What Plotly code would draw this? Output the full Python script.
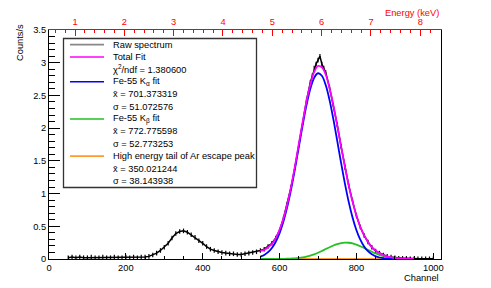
import plotly.graph_objects as go

# ---------------- data ----------------
raw_channel = [50, 60, 70, 80, 90, 100, 110, 120, 130, 140, 150, 160, 170, 180, 190,
               200, 210, 220, 230, 240, 250, 260, 270, 280, 290, 300, 310, 320, 330,
               340, 350, 360, 370, 380, 390, 400, 410, 420, 430, 440, 450, 460, 470,
               480, 490, 500, 510, 520, 530, 540, 550, 560, 570, 580, 590, 600, 610,
               620, 630, 640, 650, 660, 670, 680, 685, 690, 695, 700, 705, 710, 715,
               720, 730, 740, 750, 760, 770, 780, 790, 800, 810, 820, 830, 840, 850,
               860, 870, 880, 890, 900, 910, 920, 930, 940, 950, 960, 970, 980, 990, 1000]
raw_counts = [0.02, 0.03, 0.02, 0.03, 0.02, 0.02, 0.03, 0.02, 0.02, 0.03, 0.02, 0.02, 0.03,
              0.02, 0.02, 0.03, 0.02, 0.03, 0.02, 0.03, 0.03, 0.04, 0.06, 0.09, 0.13, 0.18,
              0.24, 0.32, 0.39, 0.42, 0.43, 0.41, 0.37, 0.33, 0.28, 0.24, 0.19, 0.15, 0.13,
              0.11, 0.10, 0.09, 0.08, 0.08, 0.07, 0.07, 0.08, 0.09, 0.10, 0.11, 0.13, 0.15,
              0.19, 0.24, 0.32, 0.44, 0.62, 0.84, 1.10, 1.40, 1.75, 2.08, 2.42, 2.70, 2.80,
              2.92, 2.98, 3.04, 3.10, 2.98, 2.92, 2.85, 2.62, 2.35, 2.05, 1.72, 1.40, 1.12,
              0.88, 0.66, 0.49, 0.36, 0.26, 0.18, 0.12, 0.09, 0.06, 0.04, 0.03, 0.02, 0.01,
              0.01, 0.01, 0.005, 0.005, 0.005, 0.003, 0.003, 0.003, 0.003]

fit_channel = [550, 560, 570, 580, 590, 600, 610, 620, 630, 640, 650, 660, 670, 680, 690,
               700, 710, 720, 730, 740, 750, 760, 770, 780, 790, 800, 810, 820, 830, 840,
               850, 860, 870, 880, 890, 900, 910, 920, 930, 940, 950]
total_fit = [0.125, 0.14, 0.18, 0.23, 0.32, 0.45, 0.62, 0.84, 1.11, 1.42, 1.76, 2.09, 2.41,
             2.67, 2.86, 2.95, 2.93, 2.82, 2.61, 2.35, 2.04, 1.72, 1.41, 1.12, 0.87, 0.66,
             0.49, 0.36, 0.26, 0.18, 0.13, 0.09, 0.06, 0.04, 0.025, 0.015, 0.009, 0.005,
             0.003, 0.002, 0.001]
ka_fit = [0.035, 0.061, 0.104, 0.168, 0.263, 0.396, 0.573, 0.797, 1.069, 1.379, 1.711, 2.045,
          2.351, 2.601, 2.770, 2.839, 2.800, 2.658, 2.428, 2.135, 1.806, 1.470, 1.152, 0.869,
          0.631, 0.440, 0.296, 0.192, 0.119, 0.071, 0.041, 0.023, 0.012, 0.006, 0.003, 0.001,
          0.0, 0.0, 0.0, 0.0, 0.0]
kb_fit = [0.0, 0.0, 0.0, 0.0, 0.0, 0.001, 0.002, 0.004, 0.007, 0.011, 0.017, 0.025, 0.037,
          0.053, 0.072, 0.096, 0.123, 0.152, 0.180, 0.206, 0.228, 0.243, 0.250, 0.248, 0.239,
          0.219, 0.195, 0.168, 0.139, 0.111, 0.086, 0.064, 0.046, 0.032, 0.022, 0.014, 0.009,
          0.005, 0.003, 0.002, 0.001]
ar_tail_fit = [0.0] * len(fit_channel)

legend_rows = [
    ("Raw spectrum", "#888888"),
    ("Total Fit", "#ff00ff"),
    ("χ<sup>2</sup>/ndf = 1.380600", None),
    ("Fe-55 K<sub>α</sub> fit", "#0000ff"),
    ("x̄ = 701.373319", None),
    ("σ = 51.072576", None),
    ("Fe-55 K<sub>β</sub> fit", "#22c022"),
    ("x̄ = 772.775598", None),
    ("σ = 52.773253", None),
    ("High energy tail of Ar escape peak", "#ff9a2e"),
    ("x̄ = 350.021244", None),
    ("σ = 38.143938", None),
]

x_range = [0, 1020]
y_range = [0, 3.5]
energy_range = [0.473, 8.42]

# ---------------- figure ----------------
W, H = 491, 288
ML, MR, MT, MB = 49, 50, 30, 29
PW, PH = W - ML - MR, H - MT - MB

def px(x):
    return (x - ML) / PW

def py(y):
    return (H - MB - y) / PH

FONT = "Liberation Sans, Arial, sans-serif"
FS = 9.3

fig = go.Figure()
fig.add_trace(go.Scatter(x=raw_channel, y=raw_counts, mode="lines",
                         line=dict(color="black", width=1.5),
                         error_y=dict(type="constant", value=0.035, color="black",
                                      thickness=1.2, width=0),
                         hoverinfo="skip", showlegend=False))
fig.add_trace(go.Scatter(x=fit_channel, y=ar_tail_fit, mode="lines",
                         line=dict(color="#ff9a2e", width=2), showlegend=False))
fig.add_trace(go.Scatter(x=fit_channel, y=kb_fit, mode="lines", line_shape="spline",
                         line=dict(color="#22c022", width=1.8), showlegend=False))
fig.add_trace(go.Scatter(x=fit_channel, y=ka_fit, mode="lines", line_shape="spline",
                         line=dict(color="#0000ff", width=1.8), showlegend=False))
fig.add_trace(go.Scatter(x=fit_channel, y=total_fit, mode="lines", line_shape="spline",
                         line=dict(color="#ff00ff", width=1.8), showlegend=False))
fig.add_trace(go.Scatter(x=[energy_range[0]], y=[None], xaxis="x2", mode="lines",
                         showlegend=False, hoverinfo="skip"))

fig.update_layout(
    width=W, height=H,
    margin=dict(l=ML, r=MR, t=MT, b=MB, pad=0),
    paper_bgcolor="white", plot_bgcolor="white",
    font=dict(family=FONT, size=FS, color="black"),
    showlegend=False,
    xaxis=dict(range=x_range, showgrid=False, zeroline=False, showline=True,
               linecolor="black", linewidth=1, mirror=False,
               ticks="inside", ticklen=6, tickcolor="black", tick0=0, dtick=200,
               minor=dict(ticks="inside", dtick=50, ticklen=3, tickcolor="black"),
               tickfont=dict(size=FS, family=FONT)),
    xaxis2=dict(range=energy_range, overlaying="x", side="top", anchor="y",
                showgrid=False, zeroline=False, showline=True, linecolor="#ff0000",
                linewidth=1, ticks="inside", ticklen=6, tickcolor="#ff0000",
                tick0=0, dtick=1,
                minor=dict(ticks="inside", dtick=0.2, ticklen=3, tickcolor="#ff0000"),
                tickfont=dict(size=FS, family=FONT, color="#ff0000")),
    yaxis=dict(range=y_range, showgrid=False, zeroline=False, showline=True,
               linecolor="black", linewidth=1, mirror=True,
               ticks="inside", ticklen=11, tickcolor="black", tick0=0, dtick=0.5,
               minor=dict(ticks="inside", dtick=0.1, ticklen=5.5, tickcolor="black"),
               tickfont=dict(size=FS, family=FONT)),
)

# axis titles
fig.add_annotation(xref="paper", yref="paper", x=px(441), y=py(277.5), text="Channel",
                   showarrow=False, xanchor="right", yanchor="middle",
                   font=dict(size=FS, family=FONT))
fig.add_annotation(xref="paper", yref="paper", x=px(441), y=py(13), text="Energy (keV)",
                   showarrow=False, xanchor="right", yanchor="middle",
                   font=dict(size=FS, family=FONT, color="#ff0000"))
fig.add_annotation(xref="paper", yref="paper", x=px(20), y=py(43), text="Counts/s",
                   showarrow=False, textangle=-90, xanchor="center", yanchor="middle",
                   font=dict(size=FS, family=FONT))

# legend box
fig.add_shape(type="rect", xref="paper", yref="paper",
              x0=px(63.5), x1=px(256.5), y0=py(38.5), y1=py(187.5),
              line=dict(color="#333333", width=1.3), fillcolor="white", layer="above")
row0, dy = 44.6, 12.39
for i, (label, color) in enumerate(legend_rows):
    yc = row0 + i * dy
    if color is not None:
        fig.add_shape(type="line", xref="paper", yref="paper",
                      x0=px(70), x1=px(104), y0=py(yc), y1=py(yc),
                      line=dict(color=color, width=1.6), layer="above")
    fig.add_annotation(xref="paper", yref="paper", x=px(111), y=py(yc), text=label,
                       showarrow=False, xanchor="left", yanchor="middle",
                       font=dict(size=FS, family=FONT))

fig.write_html("out.html", config={"displayModeBar": False},
               post_script="document.body.style.margin='0';document.body.style.overflow='hidden';")
